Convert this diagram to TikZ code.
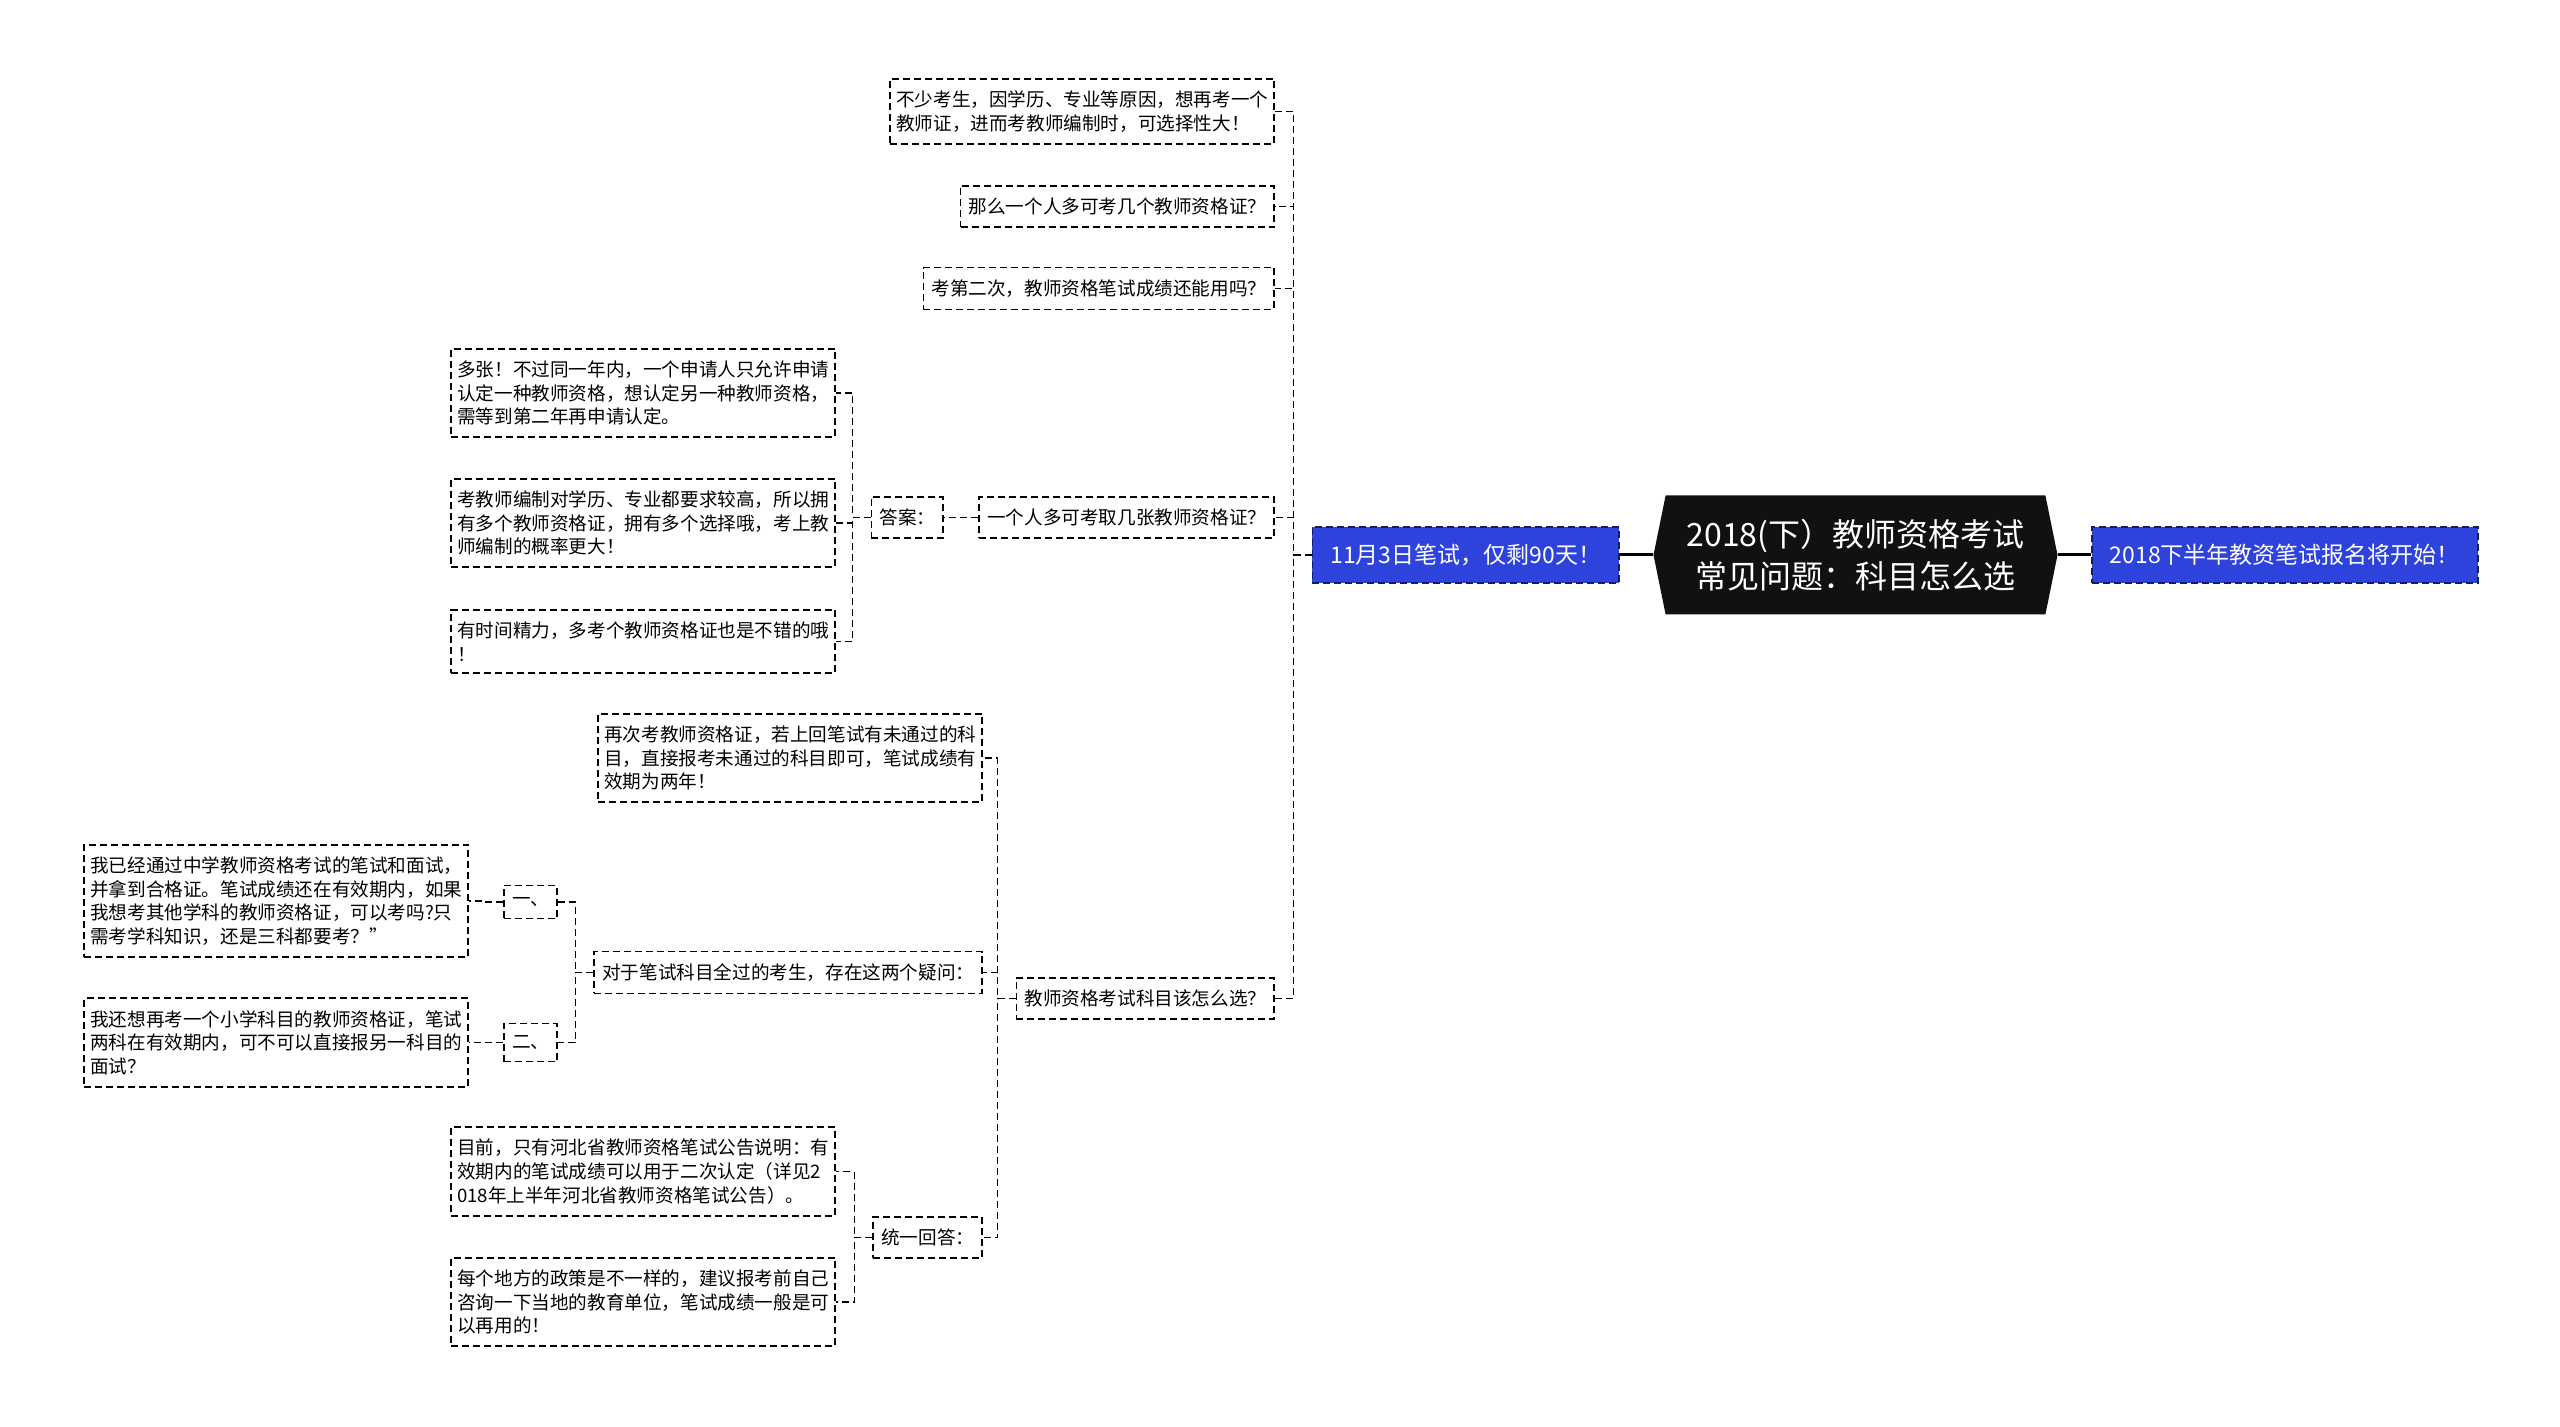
\documentclass[tikz,border=0pt]{standalone}
\usepackage{fontspec}
\setmainfont{Noto Sans CJK SC}
\usetikzlibrary{shapes.symbols}
\definecolor{nodeblue}{RGB}{46,67,219}
\definecolor{bluerim}{RGB}{20,30,90}
\definecolor{rootblack}{RGB}{17,17,17}

\begin{document}
\begin{tikzpicture}[x=0.5pt, y=-0.5pt, thick,
		dashes/.style={dash pattern=on 3.5pt off 2pt},
		root node/.style={shape=signal, signal to=west and east, signal pointer angle=157,
			fill=rootblack, text=white, minimum width=202pt, minimum height=59.5pt,
			align=center, font=\fontsize{16}{21}\selectfont},
		blue node/.style={draw=bluerim, dashes, fill=nodeblue, text=white, minimum height=28pt,
			inner xsep=9pt, font=\fontsize{11.5}{14}\selectfont},
		leaf node/.style={draw, dashes, fill=white, inner xsep=4pt, inner ysep=6pt,
			align=left, font=\fontsize{9.3}{11.8}\selectfont},
		long node/.style={leaf node, inner xsep=3pt, text width=186pt},
		elbow/.style={dashes, to path={-- ++(-18,0) |- (\tikztotarget)}}]
		
		\useasboundingbox (0,0) rectangle (2560,1427);
		
		\node[root node] (root) at (1855.5,555) {2018(下）教师资格考试\\常见问题：科目怎么选};
		\node[blue node, anchor=east] (lb) at (1620,555) {11月3日笔试，仅剩90天！};
		\node[blue node, anchor=west] (rb) at (2091,555) {2018下半年教资笔试报名将开始！};
		
		% first level
		\node[long node, anchor=east] (q1) at (1275,111.5) {不少考生，因学历、专业等原因，想再考一个\\教师证，进而考教师编制时，可选择性大！};
		\node[leaf node, anchor=east] (q2) at (1275,206.5) {那么一个人多可考几个教师资格证？};
		\node[leaf node, anchor=east] (q3) at (1275,288.5) {考第二次，教师资格笔试成绩还能用吗？};
		\node[leaf node, anchor=east] (q4) at (1275,517.5) {一个人多可考取几张教师资格证？};
		\node[leaf node, anchor=east] (q5) at (1275,998.5) {教师资格考试科目该怎么选？};
		
		% answer branch
		\node[leaf node, anchor=east] (ans) at (944,517.5) {答案：};
		\node[long node, anchor=east] (a1) at (836,393) {多张！不过同一年内，一个申请人只允许申请\\认定一种教师资格，想认定另一种教师资格，\\需等到第二年再申请认定。};
		\node[long node, anchor=east] (a2) at (836,523) {考教师编制对学历、专业都要求较高，所以拥\\有多个教师资格证，拥有多个选择哦，考上教\\师编制的概率更大！};
		\node[long node, anchor=east] (a3) at (836,641.5) {有时间精力，多考个教师资格证也是不错的哦\\！};
		
		% subject branch
		\node[long node, anchor=east] (s1) at (983,758) {再次考教师资格证，若上回笔试有未通过的科\\目，直接报考未通过的科目即可，笔试成绩有\\效期为两年！};
		\node[leaf node, anchor=east] (s2) at (983,972.5) {对于笔试科目全过的考生，存在这两个疑问：};
		\node[leaf node, anchor=east] (s3) at (983,1237.5) {统一回答：};
		\node[leaf node, anchor=east] (d1) at (558,902) {一、};
		\node[leaf node, anchor=east] (d2) at (558,1042.5) {二、};
		\node[long node, anchor=east] (e1) at (469,901) {我已经通过中学教师资格考试的笔试和面试，\\并拿到合格证。笔试成绩还在有效期内，如果\\我想考其他学科的教师资格证，可以考吗?只\\需考学科知识，还是三科都要考？”};
		\node[long node, anchor=east] (e2) at (469,1042.5) {我还想再考一个小学科目的教师资格证，笔试\\两科在有效期内，可不可以直接报另一科目的\\面试？};
		\node[long node, anchor=east] (f1) at (836,1171.5) {目前，只有河北省教师资格笔试公告说明：有\\效期内的笔试成绩可以用于二次认定（详见2\\018年上半年河北省教师资格笔试公告）。};
		\node[long node, anchor=east] (f2) at (836,1302) {每个地方的政策是不一样的，建议报考前自己\\咨询一下当地的教育单位，笔试成绩一般是可\\以再用的！};
		
		\draw[line width=1.5pt] (root.west) -- (lb.east) (root.east) -- (rb.west);
		
		\path (lb.west) edge[elbow] (q1.east) edge[elbow] (q2.east) edge[elbow] (q3.east)
		edge[elbow] (q4.east) edge[elbow] (q5.east)
		(q4.west) edge[elbow] (ans.east)
		(ans.west) edge[elbow] (a1.east) edge[elbow] (a2.east) edge[elbow] (a3.east)
		(q5.west) edge[elbow] (s1.east) edge[elbow] (s2.east) edge[elbow] (s3.east)
		(s2.west) edge[elbow] (d1.east) edge[elbow] (d2.east)
		(d1.west) edge[elbow] (e1.east)
		(d2.west) edge[elbow] (e2.east)
		(s3.west) edge[elbow] (f1.east) edge[elbow] (f2.east);
	\end{tikzpicture}
\end{document}
